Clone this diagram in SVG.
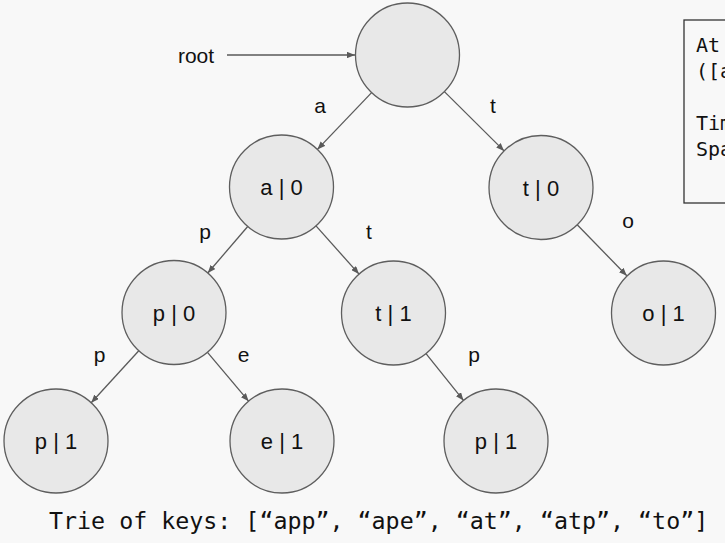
<svg xmlns="http://www.w3.org/2000/svg" width="725" height="543" viewBox="0 0 725 543">
<style>
.node{fill:#e8e8e8;stroke:#5e5e5e;stroke-width:1.3}
.nl{font-family:"Liberation Sans",Arial,sans-serif;font-size:22px;fill:#111;text-anchor:middle}
.el{font-family:"Liberation Sans",Arial,sans-serif;font-size:21px;fill:#111;text-anchor:middle}
.edge{stroke:#5a5a5a;stroke-width:1.3;fill:none;marker-end:url(#ah)}
.mono{font-family:"DejaVu Sans Mono","Liberation Mono",monospace;fill:#111}
</style>
<defs>
<marker id="ah" viewBox="0 0 10 8" refX="10" refY="4" markerWidth="8" markerHeight="6.4" markerUnits="userSpaceOnUse" orient="auto">
<path d="M0,0 L10,4 L0,8 Z" fill="#5a5a5a"/>
</marker>
</defs>
<rect x="0" y="0" width="725" height="543" fill="#f8f8f8"/>
<g id="info-box">
<rect x="684" y="20" width="60" height="183" fill="#f8f8f8" stroke="#333" stroke-width="1.3"/>
<text class="mono" x="696" y="52" font-size="20">At</text>
<text class="mono" x="696" y="78" font-size="20">([a</text>
<text class="mono" x="696" y="130" font-size="20">Tim</text>
<text class="mono" x="696" y="156" font-size="20">Spa</text>
</g>
<g id="connectors">
<line class="edge" x1="227" y1="55" x2="355" y2="55"/>
<line class="edge" x1="371.6" y1="92.6" x2="317.4" y2="149.4"/>
<line class="edge" x1="444.4" y1="91.6" x2="504.1" y2="150.9"/>
<line class="edge" x1="247.7" y1="226.5" x2="207.8" y2="273.0"/>
<line class="edge" x1="316.0" y1="225.9" x2="359.0" y2="274.1"/>
<line class="edge" x1="577.2" y1="224.8" x2="626.8" y2="275.7"/>
<line class="edge" x1="138.8" y1="350.8" x2="91.2" y2="402.7"/>
<line class="edge" x1="207.5" y1="352.3" x2="248.6" y2="401.2"/>
<line class="edge" x1="426.0" y1="353.6" x2="463.5" y2="400.4"/>
<text class="el" x="196" y="63">root</text>
<text class="el" x="320" y="113">a</text>
<text class="el" x="493" y="113">t</text>
<text class="el" x="205" y="239">p</text>
<text class="el" x="369" y="239">t</text>
<text class="el" x="628" y="228">o</text>
<text class="el" x="99.5" y="362">p</text>
<text class="el" x="243.5" y="362">e</text>
<text class="el" x="474" y="362">p</text>
</g>
<g id="node-root"><circle class="node" cx="407.5" cy="55" r="52"/></g>
<g id="node-a0"><circle class="node" cx="281.5" cy="187" r="52"/><text class="nl" x="281.5" y="195">a | 0</text></g>
<g id="node-t0"><circle class="node" cx="541" cy="187.5" r="52"/><text class="nl" x="541" y="195.5">t | 0</text></g>
<g id="node-p0"><circle class="node" cx="174" cy="312.5" r="52"/><text class="nl" x="174" y="320.5">p | 0</text></g>
<g id="node-t1"><circle class="node" cx="393.5" cy="313" r="52"/><text class="nl" x="393.5" y="321">t | 1</text></g>
<g id="node-o1"><circle class="node" cx="663.5" cy="313" r="52"/><text class="nl" x="663.5" y="321">o | 1</text></g>
<g id="node-p1a"><circle class="node" cx="56" cy="441" r="52"/><text class="nl" x="56" y="449">p | 1</text></g>
<g id="node-e1"><circle class="node" cx="282" cy="441" r="52"/><text class="nl" x="282" y="449">e | 1</text></g>
<g id="node-p1b"><circle class="node" cx="496" cy="441" r="52"/><text class="nl" x="496" y="449">p | 1</text></g>
<g id="caption">
<text class="mono" x="49" y="529" font-size="23.3">Trie of keys: [“app”, “ape”, “at”, “atp”, “to”]</text>
</g>
</svg>
